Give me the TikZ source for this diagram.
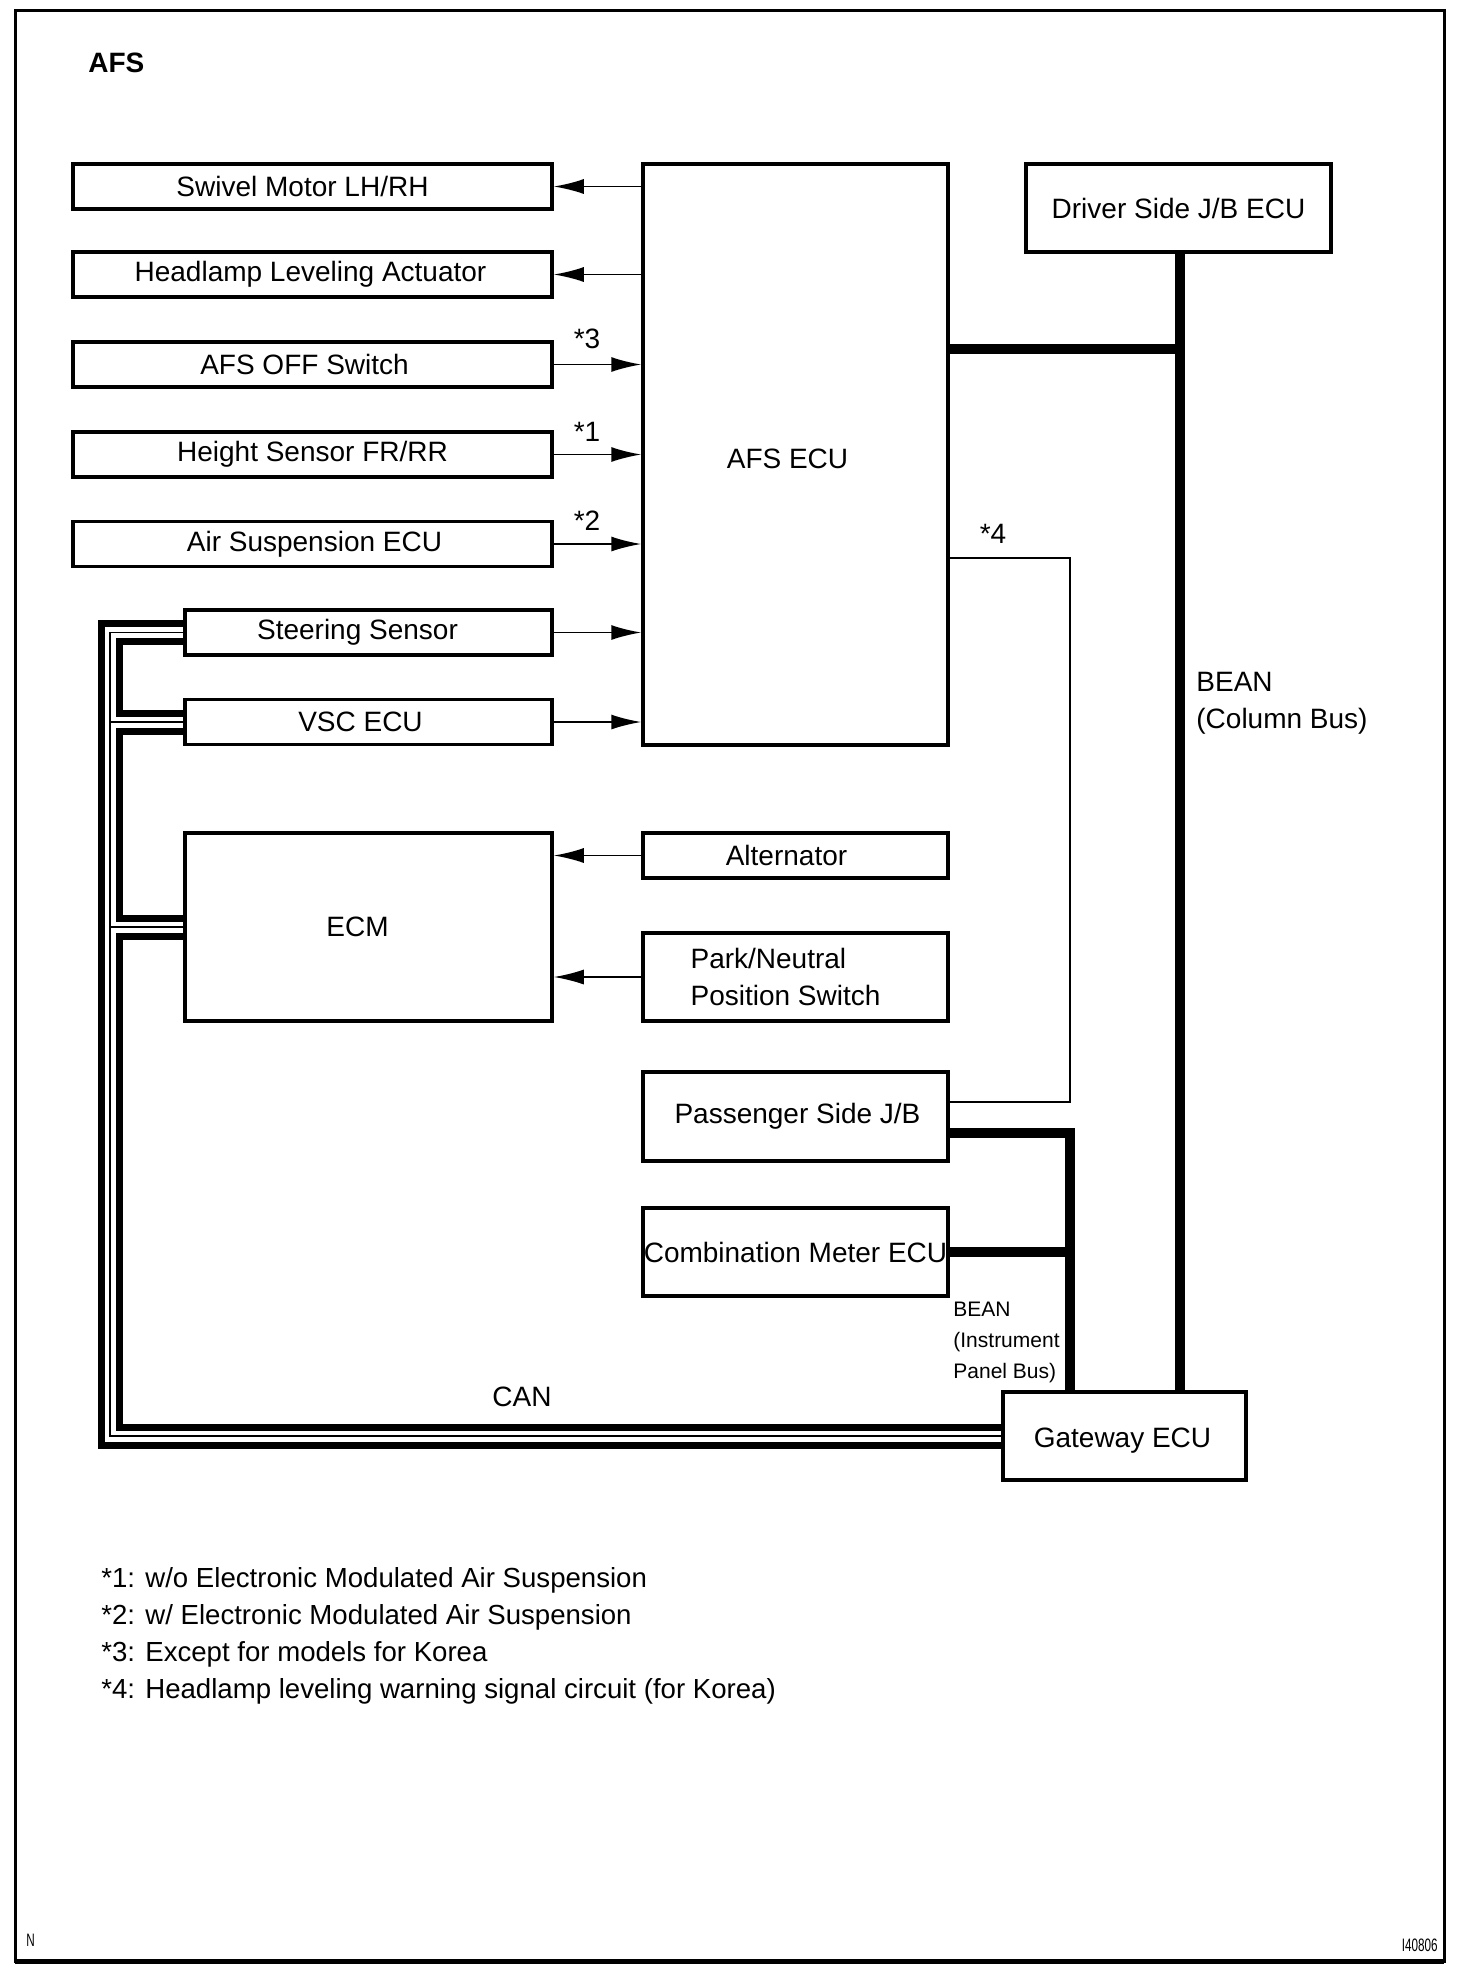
\documentclass[tikz,border=0pt]{standalone}
\usepackage{fontspec}
\setmainfont{Liberation Sans}
\usetikzlibrary{arrows.meta,calc}
\begin{document}
\begin{tikzpicture}[x=0.5pt,y=-0.5pt,
  box/.style={draw,line width=1.75pt,inner sep=0pt,font=\fontsize{14}{18.5}\selectfont},
  wh/.style 2 args={minimum width=#1*0.5pt,minimum height=#2*0.5pt},
  sig/.style={line width=0.9pt,-{Latex[length=15pt,width=7.5pt]}},
  bus/.style={line width=5pt},
  canthick/.style={line width=3.5pt},
  canthin/.style={line width=0.65pt},
  lbl/.style={font=\fontsize{14}{18.5}\selectfont,inner sep=0pt},
  small/.style={font=\fontsize{10.5}{15.5}\selectfont,inner sep=0pt},
  ]
\useasboundingbox (0,0) rectangle (1472,1976);
\draw[line width=1.5pt] (15,10) rectangle (1444,1961);
\draw[line width=2.5pt] (15,1961) -- (1444,1961);

\node[font=\bfseries\fontsize{14}{16}\selectfont,inner sep=0pt,anchor=west] (title) at (88,63) {AFS};

% left column boxes
\node[box,wh={479}{45}] (swivel) at (312.5,186.5) {Swivel Motor LH/RH\kern10pt};
\node[box,wh={479}{45}] (head) at (312.5,274.5) {Headlamp Leveling Actuator\kern2pt};
\node[box,wh={479}{45}] (offsw) at (312.5,364.5) {AFS OFF Switch\kern8pt};
\node[box,wh={479}{45}] (height) at (312.5,454.5) {Height Sensor FR/RR};
\node[box,wh={479}{45}] (airsus) at (312.5,544) {\kern2pt Air Suspension ECU};
\node[box,wh={367}{45}] (steer) at (368.5,632.5) {Steering Sensor\kern11pt};
\node[box,wh={367}{45}] (vsc) at (368.5,722) {VSC ECU\kern8pt};
\node[box,wh={367}{188}] (ecm) at (368.5,927) {ECM\kern11pt};

% middle column
\node[box,wh={305}{581}] (afs) at (795.5,454.5) {\rule{0pt}{14pt}AFS ECU\kern8pt};
\node[box,wh={305}{45}] (alt) at (795.5,855.5) {Alternator\kern9pt};
\node[box,wh={305}{88},align=left] (park) at (795.5,977) {Park/Neutral\\Position Switch\kern10pt};
\node[box,wh={305}{89}] (pass) at (795.5,1116.5) {\kern2pt Passenger Side J/B};
\node[box,wh={305}{88}] (comb) at (795.5,1252) {Combination Meter ECU};

% right
\node[box,wh={305}{88}] (driver) at (1178.5,208) {Driver Side J/B ECU};
\node[box,wh={243}{88}] (gateway) at (1124.5,1436) {\rule{0pt}{14.5pt}Gateway ECU\kern2pt};

% signal arrows
\draw[sig] (afs.west |- swivel) -- (swivel.east);
\draw[sig] (afs.west |- head) -- (head.east);
\draw[sig] (offsw.east) -- (afs.west |- offsw);
\draw[sig] (height.east) -- (afs.west |- height);
\draw[sig] (airsus.east) -- (afs.west |- airsus);
\draw[sig] (steer.east) -- (afs.west |- steer);
\draw[sig] (vsc.east) -- (afs.west |- vsc);
\draw[sig] (alt.west) -- (ecm.east |- alt);
\draw[sig] (park.west) -- (ecm.east |- park);

\node[lbl] (n3) at (587,339) {*3};
\node[lbl] (n1) at (587,432) {*1};
\node[lbl] (n2) at (587,521) {*2};
\node[lbl] (n4) at (993,534) {*4};

% BEAN column bus
\coordinate (colj) at (1180,349);
\draw[bus] (driver.south -| colj) -- (colj |- gateway.north);
\draw[bus] (afs.east |- colj) -- (colj);
\node[lbl,anchor=west,align=left] (beancol) at (1196,703) {BEAN\\(Column Bus)};

% *4 thin line
\coordinate (s4a) at (1070,558);
\coordinate (s4b) at (1070,1102);
\draw[line width=0.6pt] (afs.east |- s4a) -- (s4a) -- (s4b) -- (pass.east |- s4b);

% BEAN instrument panel bus
\coordinate (ipj) at (1070,1133);
\draw[bus] (pass.east |- ipj) -- (ipj) -- (ipj |- gateway.north);
\draw[bus] (comb.east) -- (ipj |- comb.east);
\node[small,anchor=west,align=left] (beanip) at (953,1342) {BEAN\\(Instrument\\Panel Bus)};

% CAN bus
\coordinate (xo) at (101.5,0);
\coordinate (xt) at (110,0);
\coordinate (xi) at (119.5,0);
\draw[canthick] ($(steer.west)+(0,-9)$) -- ($(xo |- steer.west)+(0,-9)$) -- ($(xo |- gateway.west)+(0,9)$) -- ($(gateway.west)+(0,9)$);
\draw[canthin] (steer.west) -- (xt |- steer.west) -- (xt |- gateway.west) -- (gateway.west);
\draw[canthin] (xt |- vsc.west) -- (vsc.west);
\draw[canthin] (xt |- ecm.west) -- (ecm.west);
\draw[canthick] ($(steer.west)+(0,9)$) -- ($(xi |- steer.west)+(0,9)$) -- ($(xi |- vsc.west)+(0,-9)$) -- ($(vsc.west)+(0,-9)$);
\draw[canthick] ($(vsc.west)+(0,9)$) -- ($(xi |- vsc.west)+(0,9)$) -- ($(xi |- ecm.west)+(0,-9)$) -- ($(ecm.west)+(0,-9)$);
\draw[canthick] ($(ecm.west)+(0,9)$) -- ($(xi |- ecm.west)+(0,9)$) -- ($(xi |- gateway.west)+(0,-9)$) -- ($(gateway.west)+(0,-9)$);
\node[lbl] (can) at (522,1397) {CAN};

% footnotes
\node[font=\fontsize{13.8}{18.6}\selectfont,inner sep=0pt,anchor=west,align=left] (notes) at (101,1636) {*1: w/o Electronic Modulated Air Suspension\\*2: w/ Electronic Modulated Air Suspension\\*3: Except for models for Korea\\*4: Headlamp leveling warning signal circuit (for Korea)};

\node[font=\fontsize{9}{10}\selectfont,inner sep=0pt,anchor=west,xscale=0.65] (nmark) at (26,1940) {N};
\node[font=\fontsize{9}{10}\selectfont,inner sep=0pt,anchor=east,xscale=0.65] (code) at (1438,1945) {I40806};
\end{tikzpicture}
\end{document}
